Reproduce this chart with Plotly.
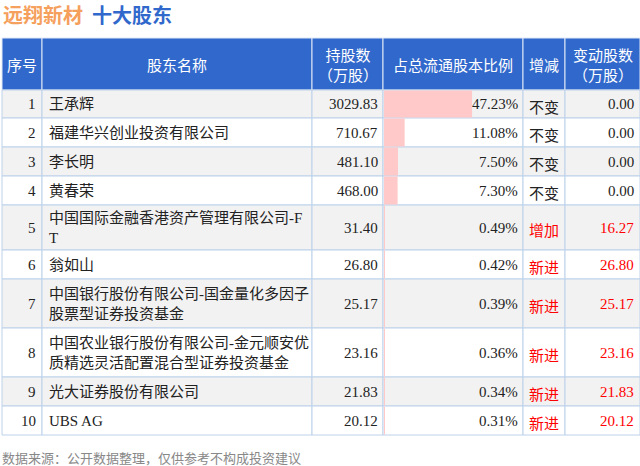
import plotly.graph_objects as go

ranks = [1,2,3,4,5,6,7,8,9,10]
names = ["王承辉","福建华兴创业投资有限公司","李长明","黄春荣","中国国际金融香港资产管理有限公司-F<br>T","翁如山",
         "中国银行股份有限公司-国金量化多因子<br>股票型证券投资基金","中国农业银行股份有限公司-金元顺安优<br>质精选灵活配置混合型证券投资基金",
         "光大证券股份有限公司","UBS AG"]
holdings = [3029.83,710.67,481.10,468.00,31.40,26.80,25.17,23.16,21.83,20.12]
ratios = [47.23,11.08,7.50,7.30,0.49,0.42,0.39,0.36,0.34,0.31]
changes = ["不变","不变","不变","不变","增加","新进","新进","新进","新进","新进"]
change_amt = [0.00,0.00,0.00,0.00,16.27,26.80,25.17,23.16,21.83,20.12]
headers = ["序号","股东名称","持股数<br>（万股）","占总流通股本比例","增减","变动股数<br>（万股）"]

cols = [2,42,312,383,523,565,640]
row_edges = [90,118,147,176,205,250,279,328,377,406,435]
head_top, head_bot = 38, 90
BLUE = "#3168cc"
BORDER = "#bcd2ea"
SERIF = "Liberation Serif, Noto Sans CJK SC"
SANS = "Noto Sans CJK SC"
FS = 15

fig = go.Figure()
shapes, ann = [], []
for i in range(6):
    shapes.append(dict(type="rect", xref="x", yref="y", x0=cols[i], x1=cols[i+1], y0=head_top, y1=head_bot,
                       fillcolor=BLUE, line=dict(color="#dfe8f5", width=1), layer="below"))
    ann.append(dict(x=(cols[i]+cols[i+1])/2, y=(head_top+head_bot)/2, text=headers[i], showarrow=False,
                    font=dict(family=SANS, size=FS, color="white"), xanchor="center", yanchor="middle"))
for r in range(10):
    y0, y1 = row_edges[r], row_edges[r+1]
    yc = (y0+y1)/2
    fill = "#f2f2f2" if r % 2 == 0 else "white"
    for i in range(6):
        shapes.append(dict(type="rect", xref="x", yref="y", x0=cols[i], x1=cols[i+1], y0=y0, y1=y1,
                           fillcolor=fill, line=dict(color=BORDER, width=1), layer="below"))
    red = changes[r] != "不变"
    tc = "red" if red else "#222"
    ann += [
        dict(x=cols[1]-4, y=yc, text=str(ranks[r]), xanchor="right", font=dict(family=SERIF, size=FS, color="#222")),
        dict(x=cols[1]+5, y=yc, text=names[r], xanchor="left", align="left", font=dict(family=SERIF, size=FS, color="#222")),
        dict(x=cols[3]-3, y=yc, text=f"{holdings[r]:.2f}", xanchor="right", font=dict(family=SERIF, size=FS, color="#222")),
        dict(x=cols[4]-3, y=yc, text=f"{ratios[r]:.2f}%", xanchor="right", font=dict(family=SERIF, size=FS, color="#222")),
        dict(x=(cols[4]+cols[5])/2, y=yc+2, text=changes[r], xanchor="center", font=dict(family=SANS, size=FS, color=tc)),
        dict(x=cols[6]-4, y=yc, text=f"{change_amt[r]:.2f}", xanchor="right", font=dict(family=SERIF, size=FS, color=tc)),
    ]
for a in ann:
    a.setdefault("showarrow", False); a.setdefault("yanchor", "middle"); a["xref"] = "x"; a["yref"] = "y"

centers = [(row_edges[r]+row_edges[r+1])/2 for r in range(10)]
widths = [row_edges[r+1]-row_edges[r]-1 for r in range(10)]
fig.add_trace(go.Bar(orientation="h", y=centers, x=[v*1.865 for v in ratios], base=cols[3]+1,
                     width=widths, marker=dict(color="#ffc9c9", line=dict(width=0)), hoverinfo="skip"))

ann.append(dict(xref="x", yref="y", x=1, y=14, text="<b><span style='color:#f5a05c'>远翔新材</span>  <span style='color:#3168cc'>十大股东</span></b>",
                showarrow=False, xanchor="left", yanchor="middle", font=dict(family=SANS, size=20)))
ann.append(dict(xref="x", yref="y", x=0, y=457, text="数据来源：公开数据整理，仅供参考不构成投资建议", showarrow=False,
                xanchor="left", yanchor="middle", font=dict(family=SANS, size=13, color="#888")))

fig.update_layout(width=640, height=466, margin=dict(l=0, r=0, t=0, b=0), paper_bgcolor="white", plot_bgcolor="white",
                  shapes=shapes, annotations=ann, showlegend=False,
                  xaxis=dict(range=[0,640], visible=False, fixedrange=True),
                  yaxis=dict(range=[466,0], visible=False, fixedrange=True))
fig.write_html("out.html", config={"displayModeBar": False},
               post_script="document.body.style.margin='0';document.body.style.overflow='hidden';")
